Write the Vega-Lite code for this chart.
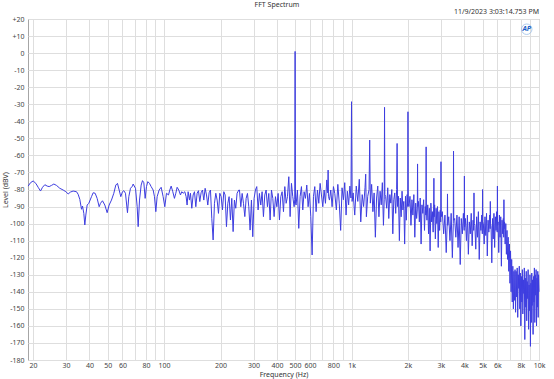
{
"$schema": "https://vega.github.io/schema/vega-lite/v6.json",
"width": 511,
"height": 341,
"autosize": {"type": "none"},
"padding": {"left": 28, "top": 19, "right": 15, "bottom": 19},
"background": "white",
"config": {"font": "Noto Sans", "view": {"stroke": "#a6a6a6", "strokeWidth": 1}},
"resolve": {"axis": {"x": "independent", "y": "independent"}},
"layer": [
{
"data": {"values": [
{"f":18.84,"v":-78.0},{"f":19.39,"v":-76.0},{"f":20.03,"v":-75.0},{"f":20.70,"v":-76.4},{"f":21.30,"v":-78.7},{"f":21.92,"v":-80.9},{"f":22.47,"v":-78.7},{"f":23.12,"v":-77.2},{"f":23.79,"v":-78.0},{"f":24.38,"v":-78.3},{"f":25.09,"v":-77.6},{"f":25.82,"v":-76.8},{"f":26.68,"v":-77.6},{"f":27.79,"v":-79.3},{"f":28.95,"v":-80.3},{"f":29.92,"v":-81.3},{"f":30.79,"v":-82.6},{"f":31.68,"v":-81.5},{"f":32.73,"v":-80.9},{"f":34.11,"v":-81.3},{"f":34.81,"v":-82.8},{"f":35.53,"v":-85.8},{"f":36.27,"v":-91.6},{"f":36.72,"v":-89.7},{"f":37.32,"v":-94.0},{"f":37.78,"v":-100.8},{"f":38.25,"v":-95.0},{"f":38.88,"v":-89.1},{"f":39.68,"v":-88.1},{"f":41.01,"v":-84.2},{"f":41.86,"v":-81.9},{"f":42.89,"v":-82.2},{"f":43.95,"v":-85.2},{"f":45.06,"v":-90.1},{"f":45.80,"v":-88.1},{"f":46.93,"v":-86.6},{"f":48.30,"v":-89.1},{"f":49.70,"v":-93.6},{"f":50.93,"v":-89.1},{"f":52.41,"v":-86.2},{"f":53.94,"v":-82.2},{"f":55.28,"v":-77.4},{"f":56.42,"v":-76.4},{"f":57.59,"v":-80.3},{"f":58.78,"v":-84.2},{"f":59.99,"v":-81.3},{"f":60.99,"v":-80.7},{"f":62.25,"v":-82.2},{"f":63.80,"v":-93.6},{"f":64.86,"v":-84.2},{"f":66.20,"v":-79.3},{"f":67.86,"v":-78.0},
{"f":68.39,"v":-76.8},{"f":70.41,"v":-79.3},{"f":71.87,"v":-90.1},{"f":72.75,"v":-101.8},{"f":73.95,"v":-86.2},{"f":75.48,"v":-77.4},{"f":76.73,"v":-74.8},{"f":77.99,"v":-76.0},{"f":79.26,"v":-85.2},{"f":80.57,"v":-78.3},{"f":81.90,"v":-75.4},{"f":83.59,"v":-76.4},{"f":85.32,"v":-78.3},{"f":87.45,"v":-80.3},{"f":88.89,"v":-84.2},{"f":90.36,"v":-93.0},{"f":91.84,"v":-84.2},{"f":94.13,"v":-80.3},{"f":96.47,"v":-78.7},{"f":98.86,"v":-84.2},{"f":100.9,"v":-90.1},{"f":103.0,"v":-82.2},{"f":105.6,"v":-83.2},{"f":107.3,"v":-80.3},{"f":109.1,"v":-78.0},{"f":111.3,"v":-81.3},{"f":113.6,"v":-85.2},{"f":115.5,"v":-82.2},{"f":117.4,"v":-78.7},{"f":119.8,"v":-80.3},{"f":122.3,"v":-83.2},{"f":124.3,"v":-81.3},{"f":126.4,"v":-82.2},{"f":129.0,"v":-81.3},{"f":131.1,"v":-84.2},{"f":132.7,"v":-89.1},{"f":134.4,"v":-81.3},{"f":136.6,"v":-86.2},{"f":138.3,"v":-82.2},{"f":140.6,"v":-91.0},{"f":142.9,"v":-83.2},{"f":145.3,"v":-81.3},{"f":147.7,"v":-90.1},{"f":150.1,"v":-82.2},{"f":152.6,"v":-80.7},{"f":155.1,"v":-87.1},{"f":157.6,"v":-81.9},{"f":160.3,"v":-80.3},{"f":162.9,"v":-86.2},{"f":165.6,"v":-79.3},{"f":168.4,"v":-83.2},{"f":171.1,"v":-89.1},{"f":173.9,"v":-81.9},{"f":176.8,"v":-80.3},{"f":179.7,"v":-96.9},{"f":182.7,"v":-109.6},{"f":185.7,"v":-88.1},{"f":188.8,"v":-82.2},{"f":191.9,"v":-86.2},{"f":195.1,"v":-94.0},{"f":198.3,"v":-82.2},{"f":201.6,"v":-84.2},{"f":204.9,"v":-92.0},{"f":208.3,"v":-81.3},{"f":211.7,"v":-83.2},{"f":215.2,"v":-101.8},{"f":218.8,"v":-88.1},{"f":222.3,"v":-84.2},{"f":226.0,"v":-97.9},{"f":229.7,"v":-85.2},{"f":233.5,"v":-104.7},{"f":237.3,"v":-86.2},{"f":241.2,"v":-91.0},{"f":245.2,"v":-82.2},{"f":250.4,"v":-80.3},
{"f":252.5,"v":-80.3},{"f":256.6,"v":-90.1},{"f":260.9,"v":-82.3},{"f":265.2,"v":-88.1},{"f":269.6,"v":-95.9},{"f":274.0,"v":-85.2},{"f":278.5,"v":-82.3},{"f":283.1,"v":-90.1},{"f":287.7,"v":-103.8},{"f":292.5,"v":-86.2},{"f":297.3,"v":-107.7},{"f":302.2,"v":-85.2},{"f":307.2,"v":-80.3},{"f":312.2,"v":-78.3},{"f":317.4,"v":-92.0},{"f":322.6,"v":-82.3},{"f":328.0,"v":-89.1},{"f":333.4,"v":-81.3},{"f":338.9,"v":-95.9},{"f":344.5,"v":-83.2},{"f":350.3,"v":-80.3},{"f":356.0,"v":-90.1},{"f":361.9,"v":-82.3},{"f":367.9,"v":-97.9},{"f":374.0,"v":-80.3},{"f":380.2,"v":-85.2},{"f":386.4,"v":-95.9},{"f":392.8,"v":-84.2},{"f":399.3,"v":-90.1},{"f":405.9,"v":-82.3},{"f":412.6,"v":-97.9},{"f":419.5,"v":-84.2},{"f":426.4,"v":-81.3},{"f":433.5,"v":-93.0},{"f":440.7,"v":-78.3},{"f":447.8,"v":-88.1},{"f":455.2,"v":-84.2},{"f":462.8,"v":-72.5},{"f":470.3,"v":-95.9},{"f":478.1,"v":-76.4},{"f":485.9,"v":-84.2},{"f":494.0,"v":-90.1},{"f":497.8,"v":-86.0},{"f":500,"v":1.0},{"f":502.2,"v":-88.0},{"f":506.2,"v":-89.1},{"f":514.5,"v":-80.3},{"f":523.0,"v":-102.8},{"f":531.7,"v":-84.2},{"f":540.5,"v":-78.3},{"f":549.4,"v":-92.0},{"f":558.5,"v":-81.3},{"f":567.7,"v":-85.2},{"f":577.1,"v":-77.4},{"f":586.7,"v":-90.1},{"f":596.4,"v":-82.3},{"f":606.2,"v":-95.9},{"f":616.2,"v":-118.4},{"f":626.4,"v":-84.2},{"f":636.7,"v":-78.3},{"f":647.3,"v":-93.0},{"f":658.0,"v":-80.3},{"f":668.8,"v":-88.1},{"f":679.9,"v":-76.4},{"f":691.1,"v":-83.2},{"f":702.5,"v":-90.1},{"f":714.1,"v":-80.3},{"f":725.9,"v":-88.1},{"f":737.8,"v":-74.4},{"f":747,"v":-82},{"f":750,"v":-68.6},{"f":753,"v":-84},{"f":762.3,"v":-86.2},{"f":774.9,"v":-80.3},{"f":787.7,"v":-90.1},{"f":800.7,"v":-78.3},{"f":813.9,"v":-82.3},
{"f":830,"v":-92},{"f":845,"v":-77},{"f":860,"v":-88},{"f":875,"v":-104},{"f":890,"v":-79},{"f":905,"v":-86},{"f":920,"v":-76},{"f":935,"v":-95},{"f":950,"v":-81},{"f":965,"v":-89},{"f":980,"v":-78},{"f":993,"v":-85},{"f":1000,"v":-28.5},{"f":1007,"v":-87},{"f":1020,"v":-82},{"f":1040,"v":-95},{"f":1060,"v":-78},{"f":1080,"v":-87},{"f":1100,"v":-74},{"f":1120,"v":-99},{"f":1140,"v":-83},{"f":1160,"v":-90},{"f":1180,"v":-79},{"f":1190,"v":-71},{"f":1200,"v":-96},{"f":1220,"v":-84},{"f":1240,"v":-80},{"f":1250,"v":-51},{"f":1260,"v":-88},{"f":1280,"v":-77},{"f":1300,"v":-93},{"f":1320,"v":-82},{"f":1340,"v":-108},{"f":1360,"v":-85},{"f":1380,"v":-78},{"f":1400,"v":-96},{"f":1420,"v":-81},{"f":1440,"v":-89},{"f":1460,"v":-76},{"f":1480,"v":-101},{"f":1494,"v":-86},{"f":1500,"v":-31.8},{"f":1506,"v":-83},{"f":1520,"v":-84},{"f":1540,"v":-91},{"f":1560,"v":-79},{"f":1580,"v":-97},{"f":1600,"v":-83},{"f":1620,"v":-88},{"f":1640,"v":-80},{"f":1660,"v":-106},{"f":1680,"v":-86},{"f":1700,"v":-82},{"f":1720,"v":-94},{"f":1740,"v":-80},{"f":1750,"v":-53},{"f":1760,"v":-90},{"f":1780,"v":-84},{"f":1800,"v":-110},{"f":1820,"v":-85},{"f":1840,"v":-96},{"f":1860,"v":-81},{"f":1880,"v":-92},{"f":1900,"v":-87},{"f":1920,"v":-112},{"f":1940,"v":-84},{"f":1960,"v":-98},{"f":1980,"v":-83},{"f":1993,"v":-90},{"f":2000,"v":-34.4},{"f":2008,"v":-88},
{"f":2025,"v":-90},{"f":2050,"v":-84},{"f":2075,"v":-101},{"f":2100,"v":-86},{"f":2125,"v":-95},{"f":2150,"v":-83},{"f":2175,"v":-108},{"f":2200,"v":-88},{"f":2225,"v":-97},{"f":2243,"v":-92},{"f":2250,"v":-65},{"f":2257,"v":-90},{"f":2275,"v":-87},{"f":2300,"v":-99},{"f":2325,"v":-85},{"f":2350,"v":-112},{"f":2375,"v":-89},{"f":2400,"v":-94},{"f":2425,"v":-86},{"f":2450,"v":-104},{"f":2475,"v":-90},{"f":2492,"v":-95},{"f":2500,"v":-55},{"f":2508,"v":-92},{"f":2525,"v":-98},{"f":2550,"v":-89},{"f":2575,"v":-106},{"f":2600,"v":-91},{"f":2625,"v":-116},{"f":2650,"v":-88},{"f":2675,"v":-99},{"f":2700,"v":-93},{"f":2725,"v":-105},{"f":2740,"v":-92},{"f":2750,"v":-73.4},{"f":2760,"v":-96},{"f":2775,"v":-89},{"f":2800,"v":-109},{"f":2825,"v":-91},{"f":2850,"v":-100},{"f":2875,"v":-90},{"f":2900,"v":-114},{"f":2925,"v":-93},{"f":2950,"v":-104},{"f":2975,"v":-92},{"f":2990,"v":-99},{"f":3000,"v":-63.7},{"f":3010,"v":-96},{"f":3050,"v":-93},{"f":3100,"v":-106},{"f":3150,"v":-95},{"f":3200,"v":-117},{"f":3240,"v":-99},{"f":3250,"v":-82.6},{"f":3260,"v":-101},{"f":3300,"v":-96},{"f":3350,"v":-110},{"f":3400,"v":-94},{"f":3450,"v":-120},{"f":3490,"v":-100},{"f":3500,"v":-57.5},{"f":3510,"v":-98},{"f":3550,"v":-97},{"f":3600,"v":-108},{"f":3650,"v":-95},{"f":3700,"v":-114},{"f":3750,"v":-96},{"f":3800,"v":-124},{"f":3850,"v":-97},{"f":3900,"v":-106},{"f":3950,"v":-94},{"f":3990,"v":-104},{"f":4000,"v":-72.1},{"f":4010,"v":-102},
{"f":4050,"v":-97},{"f":4100,"v":-110},{"f":4150,"v":-95},{"f":4200,"v":-118},{"f":4250,"v":-99},{"f":4300,"v":-106},{"f":4350,"v":-94},{"f":4400,"v":-113},{"f":4450,"v":-98},{"f":4485,"v":-104},{"f":4500,"v":-82},{"f":4515,"v":-100},{"f":4550,"v":-101},{"f":4600,"v":-115},{"f":4650,"v":-96},{"f":4700,"v":-108},{"f":4750,"v":-93},{"f":4800,"v":-121},{"f":4850,"v":-99},{"f":4900,"v":-104},{"f":4950,"v":-95},{"f":4985,"v":-106},{"f":5000,"v":-80},{"f":5015,"v":-99},{"f":5050,"v":-100},{"f":5100,"v":-112},{"f":5150,"v":-96},{"f":5200,"v":-107},{"f":5250,"v":-94},{"f":5300,"v":-119},{"f":5350,"v":-98},{"f":5400,"v":-105},{"f":5450,"v":-95},{"f":5485,"v":-103},{"f":5500,"v":-87},{"f":5515,"v":-100},{"f":5550,"v":-102},{"f":5600,"v":-123},{"f":5650,"v":-97},{"f":5700,"v":-109},{"f":5750,"v":-94},{"f":5800,"v":-114},{"f":5850,"v":-96},{"f":5900,"v":-104},{"f":5950,"v":-93},{"f":5985,"v":-105},{"f":6000,"v":-78},{"f":6015,"v":-101},{"f":6050,"v":-99},{"f":6100,"v":-117},{"f":6150,"v":-95},{"f":6200,"v":-108},{"f":6250,"v":-96},{"f":6300,"v":-125},{"f":6350,"v":-98},{"f":6400,"v":-106},{"f":6450,"v":-97},{"f":6485,"v":-108},{"f":6500,"v":-86},{"f":6515,"v":-103},{"f":6550,"v":-99},{"f":6600,"v":-112},{"f":6650,"v":-100},{"f":6700,"v":-118},{"f":6750,"v":-104},{"f":6800,"v":-121},{"f":6850,"v":-108},{"f":6900,"v":-128},{"f":6950,"v":-112},{"f":7000,"v":-135},{"f":7050,"v":-116},{"f":7100,"v":-140},{"f":7150,"v":-121},{"f":7200,"v":-146},{"f":7250,"v":-125},{"f":7300,"v":-150},{"f":7350,"v":-128},{"f":7400,"v":-145},{"f":7450,"v":-127},{"f":7500,"v":-152},
{"f":7550,"v":-128},{"f":7600,"v":-143},{"f":7650,"v":-126},{"f":7700,"v":-155},{"f":7750,"v":-130},{"f":7800,"v":-138},{"f":7850,"v":-125},{"f":7900,"v":-150},{"f":7950,"v":-129},{"f":8000,"v":-160},{"f":8050,"v":-131},{"f":8100,"v":-146},{"f":8150,"v":-127},{"f":8200,"v":-153},{"f":8250,"v":-133},{"f":8300,"v":-141},{"f":8350,"v":-126},{"f":8400,"v":-168},{"f":8450,"v":-132},{"f":8500,"v":-149},{"f":8550,"v":-128},{"f":8600,"v":-157},{"f":8650,"v":-134},{"f":8700,"v":-144},{"f":8750,"v":-127},{"f":8800,"v":-162},{"f":8850,"v":-136},{"f":8900,"v":-151},{"f":8950,"v":-130},{"f":9000,"v":-172},{"f":9050,"v":-135},{"f":9100,"v":-158},{"f":9150,"v":-129},{"f":9200,"v":-148},{"f":9250,"v":-133},{"f":9300,"v":-165},{"f":9350,"v":-131},{"f":9400,"v":-146},{"f":9450,"v":-126},{"f":9500,"v":-158},{"f":9550,"v":-130},{"f":9600,"v":-142},{"f":9650,"v":-127},{"f":9700,"v":-160},{"f":9750,"v":-132},{"f":9800,"v":-149},{"f":9850,"v":-128},{"f":9900,"v":-155},{"f":9950,"v":-130},{"f":10000,"v":-140}
]},
"mark": {"type": "line", "color": "#3d3de0", "strokeWidth": 1},
"encoding": {
"x": {"field": "f", "type": "quantitative", "sort": null,
 "scale": {"type": "log", "domain": [18.8, 10000], "nice": false},
 "axis": {"values": [20,30,40,50,60,70,80,90,100,200,300,400,500,600,700,800,900,1000,2000,3000,4000,5000,6000,7000,8000,9000,10000],
  "labelExpr": "indexof([70,90,700,900,7000,9000], datum.value) >= 0 ? '' : (datum.value >= 1000 ? (datum.value/1000) + 'k' : '' + datum.value)",
  "title": "Frequency (Hz)", "grid": true, "gridColor": "#dedede", "ticks": false, "domain": false,
  "labelFontSize": 7, "labelColor": "#444444", "labelPadding": 1, "labelOverlap": false, "labelFlush": false,
  "titleFontSize": 7, "titleFontWeight": "normal", "titleColor": "#333333", "titleY": 10, "titleBaseline": "top"}},
"y": {"field": "v", "type": "quantitative",
 "scale": {"domain": [-180, 20], "nice": false, "zero": false},
 "axis": {"values": [-180,-170,-160,-150,-140,-130,-120,-110,-100,-90,-80,-70,-60,-50,-40,-30,-20,-10,0,10,20],
  "labelExpr": "datum.value > 0 ? '+' + datum.value : '' + datum.value",
  "title": "Level (dBV)", "grid": true, "gridColor": "#dedede", "ticks": false, "domain": false,
  "labelFontSize": 7, "labelColor": "#444444", "labelPadding": 4, "labelOverlap": false, "labelFlush": false,
  "titleFontSize": 7, "titleFontWeight": "normal", "titleColor": "#333333", "titlePadding": 1}}
}
},
{
"data": {"values": [{"t": "FFT Spectrum"}]},
"mark": {"type": "text", "align": "center", "baseline": "middle", "fontSize": 7, "color": "#333333"},
"encoding": {"x": {"datum": 400, "axis": null}, "y": {"datum": 28.2, "axis": null}, "text": {"field": "t"}}
},
{
"data": {"values": [{"t": "11/9/2023 3:03:14.753 PM"}]},
"mark": {"type": "text", "align": "right", "baseline": "middle", "fontSize": 7, "color": "#333333"},
"encoding": {"x": {"datum": 10000, "axis": null}, "y": {"datum": 24, "axis": null}, "text": {"field": "t"}}
},
{
"data": {"values": [{"t": "AP"}]},
"mark": {"type": "point", "shape": "circle", "size": 110, "filled": false, "color": "#8fb8e8", "strokeWidth": 1},
"encoding": {"x": {"datum": 8600, "axis": null}, "y": {"datum": 14, "axis": null}}
},
{
"data": {"values": [{"t": "AP"}]},
"mark": {"type": "text", "align": "center", "baseline": "middle", "fontSize": 7, "fontStyle": "italic", "fontWeight": "bold", "color": "#1a5fc8"},
"encoding": {"x": {"datum": 8600, "axis": null}, "y": {"datum": 14, "axis": null}, "text": {"field": "t"}}
}
]
}
